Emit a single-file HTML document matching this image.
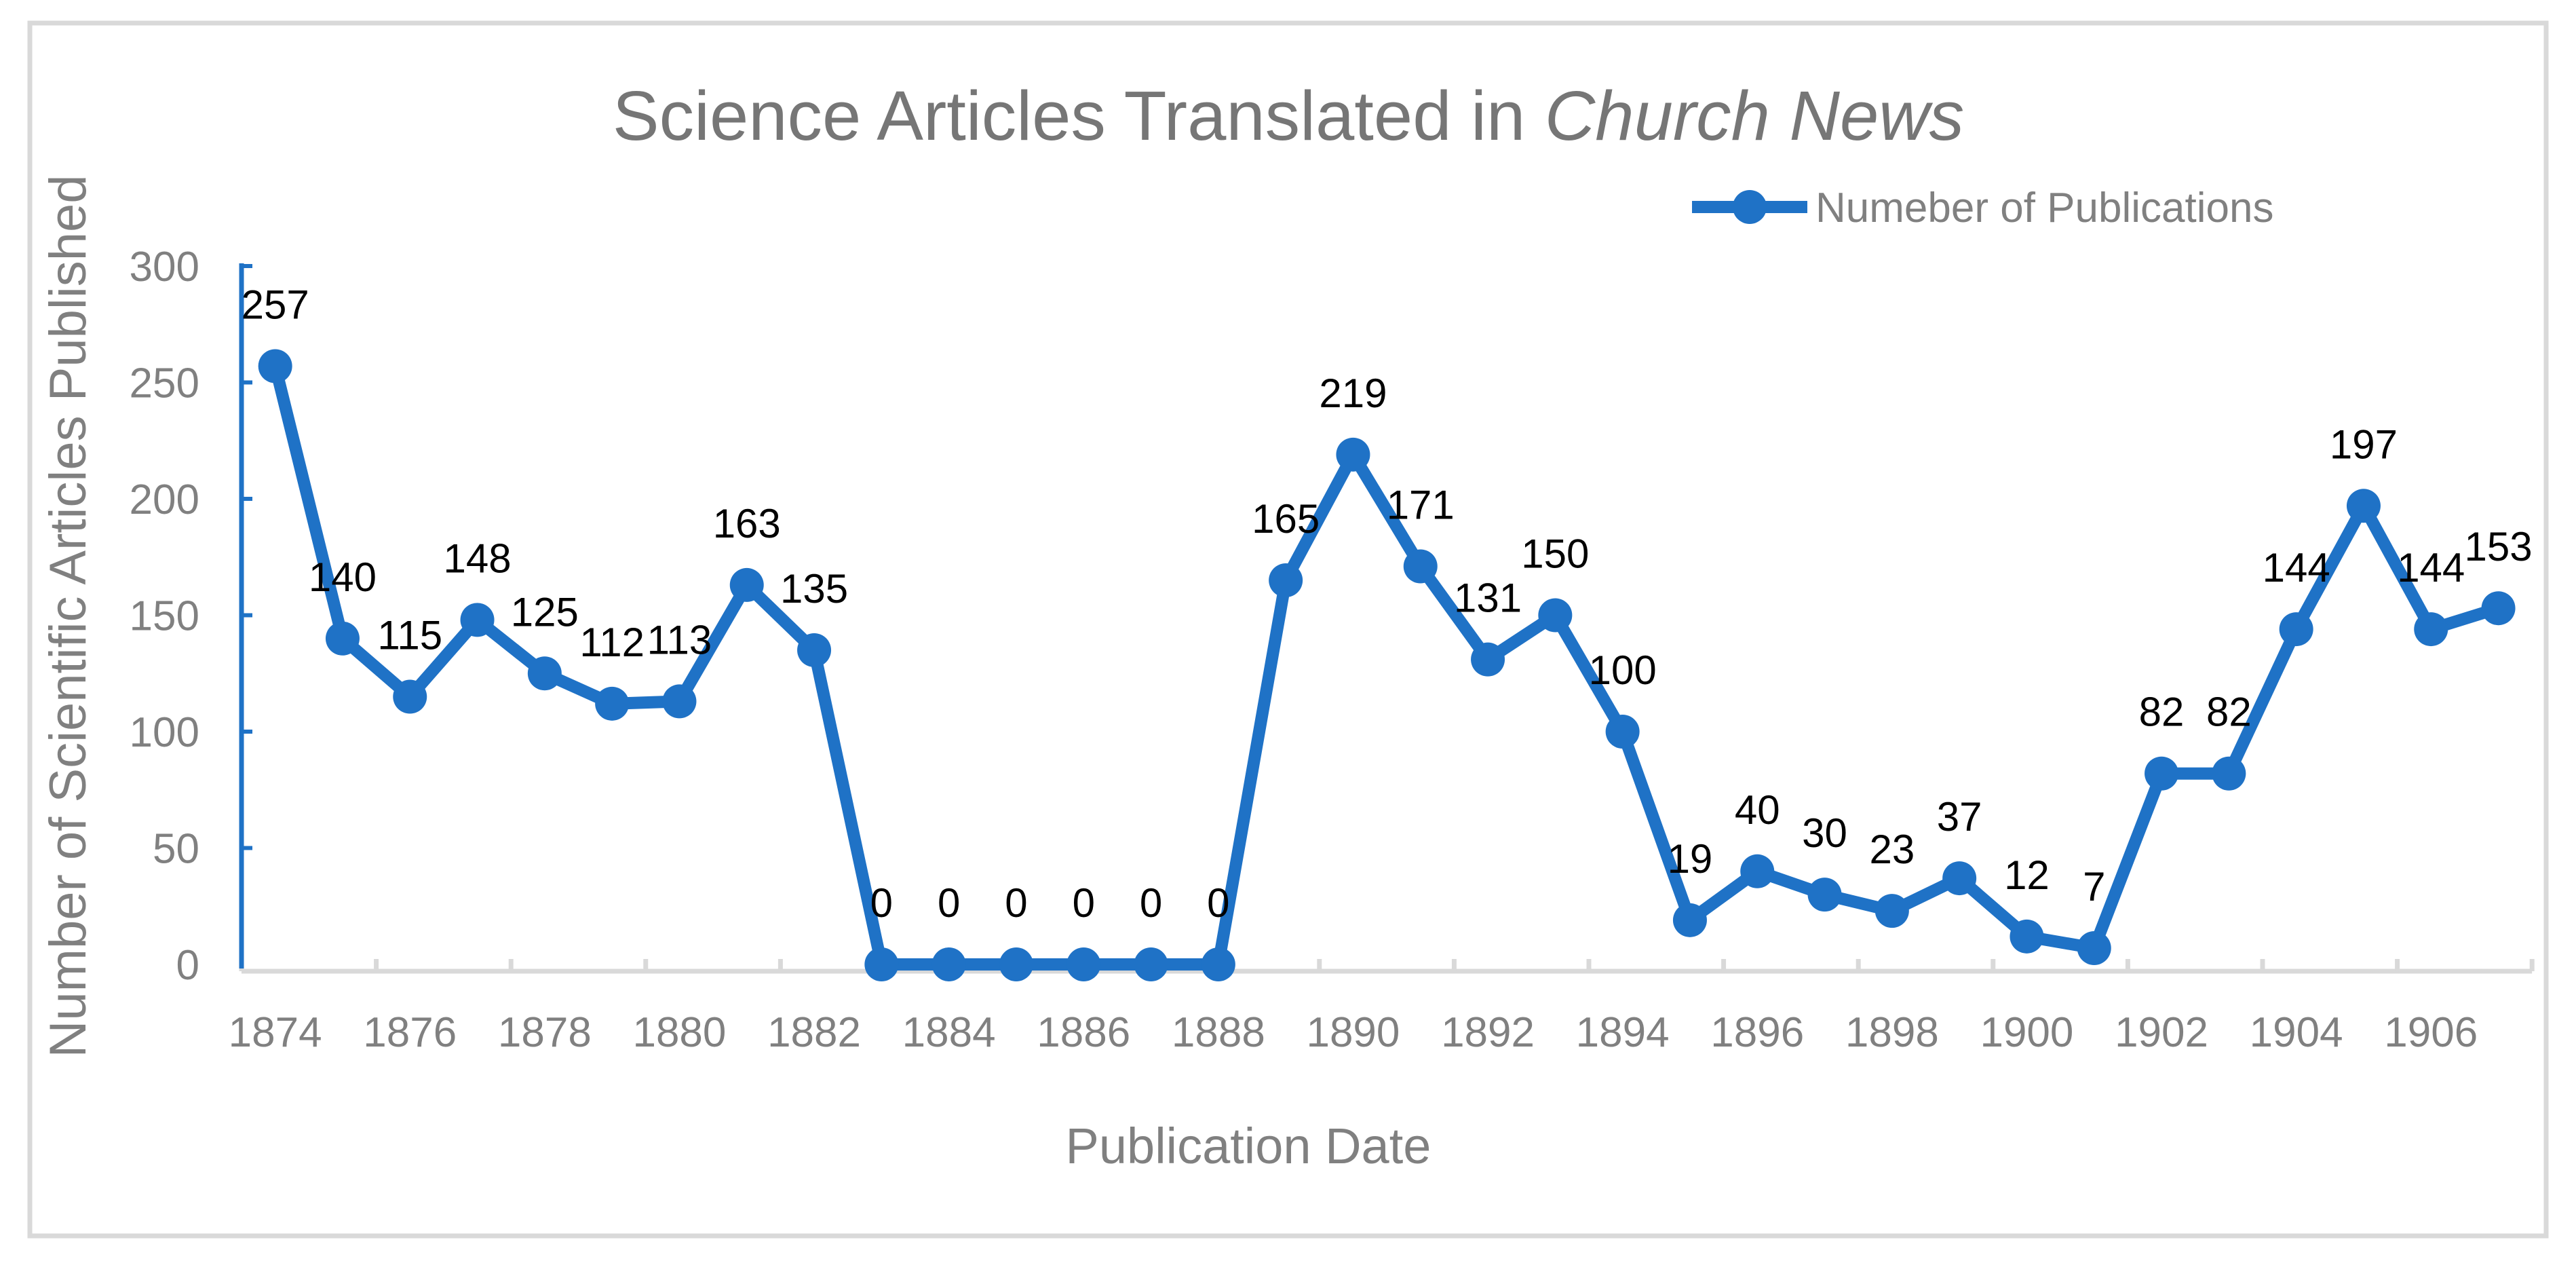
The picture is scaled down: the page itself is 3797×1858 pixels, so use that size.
<!DOCTYPE html>
<html><head><meta charset="utf-8">
<style>
html,body{margin:0;padding:0;background:#fff;}
svg{display:block;font-family:"Liberation Sans",sans-serif;}
</style></head>
<body>
<svg id="chart" width="3797" height="1858" viewBox="0 0 3797 1858" xmlns="http://www.w3.org/2000/svg">
<rect x="44" y="34" width="3709" height="1787" fill="#fff" stroke="#d9d9d9" stroke-width="7"/>
<text x="1899" y="206" text-anchor="middle" font-size="103" fill="#767676">Science Articles Translated in <tspan font-style="italic">Church News</tspan></text>
<text transform="translate(126,908) rotate(-90)" text-anchor="middle" font-size="76" fill="#808080">Number of Scientific Articles Published</text>
<text x="1840" y="1714" text-anchor="middle" font-size="74" fill="#808080">Publication Date</text>
<g>
<line x1="2494" y1="305" x2="2664" y2="305" stroke="#1f72c6" stroke-width="18"/>
<circle cx="2579" cy="305" r="25" fill="#1f72c6"/>
<text x="2676" y="327" font-size="62" fill="#808080">Numeber of Publications</text>
</g>
<g id="axes"></g>
<g id="series"></g>
<g id="labels"></g>
</svg>
<script>
const years = [1874,1875,1876,1877,1878,1879,1880,1881,1882,1883,1884,1885,1886,1887,1888,1889,1890,1891,1892,1893,1894,1895,1896,1897,1898,1899,1900,1901,1902,1903,1904,1905,1906,1907];
const counts = [257,140,115,148,125,112,113,163,135,0,0,0,0,0,0,165,219,171,131,150,100,19,40,30,23,37,12,7,82,82,144,197,144,153];
const yTicks = [0,50,100,150,200,250,300];

const NS = "http://www.w3.org/2000/svg";
const left = 356, catW = 99.3, y0 = 1421, y300 = 392;
const xScale = i => left + catW * (i + 0.5);
const yScale = v => y0 - (v / 300) * (y0 - y300);
const blue = "#1f72c6";
function mk(tag, attrs, parent){const e=document.createElementNS(NS,tag);for(const k in attrs)e.setAttribute(k,attrs[k]);parent.appendChild(e);return e;}
const axes = document.getElementById('axes');
const right = left + catW * years.length;
let xa = mk('line',{x1:left,y1:y0+10,x2:right,y2:y0+10,stroke:'#d9d9d9','stroke-width':7},axes);


for(let i=0;i<=years.length;i+=2){
  const x = left + catW*i;
  const t = mk('line',{x1:x,y1:y0+10,x2:x,y2:y0-8,stroke:'#d9d9d9','stroke-width':7},axes);
  
  
}
years.forEach((yr,i)=>{
  if(i%2!==0) return;
  const t = mk('text',{x:xScale(i),y:1542,'text-anchor':'middle','font-size':62,fill:'#808080'},axes);
  t.textContent = yr;
  
  
});
let ya = mk('line',{x1:left,y1:y300-4,x2:left,y2:y0+6,stroke:blue,'stroke-width':7},axes);


yTicks.forEach(v=>{
  const y = yScale(v);
  if(v>0){
    const t = mk('line',{x1:left,y1:y,x2:left+16,y2:y,stroke:blue,'stroke-width':6},axes);
    
    
  }
  const l = mk('text',{x:294,y:y+22,'text-anchor':'end','font-size':62,fill:'#808080'},axes);
  l.textContent = v;
  
  
});
const series = document.getElementById('series');
const pts = counts.map((v,i)=>xScale(i)+','+yScale(v)).join(' ');
const pl = mk('polyline',{points:pts,fill:'none',stroke:blue,'stroke-width':18,'stroke-linejoin':'round'},series);


const labels = document.getElementById('labels');
counts.forEach((v,i)=>{
  const c = mk('circle',{cx:xScale(i),cy:yScale(v),r:25,fill:blue},series);
  
  
  const t = mk('text',{x:xScale(i),y:yScale(v)-70,'text-anchor':'middle','font-size':60,fill:'#000'},labels);
  t.textContent = v;
  
  
});
</script>
</body></html>
